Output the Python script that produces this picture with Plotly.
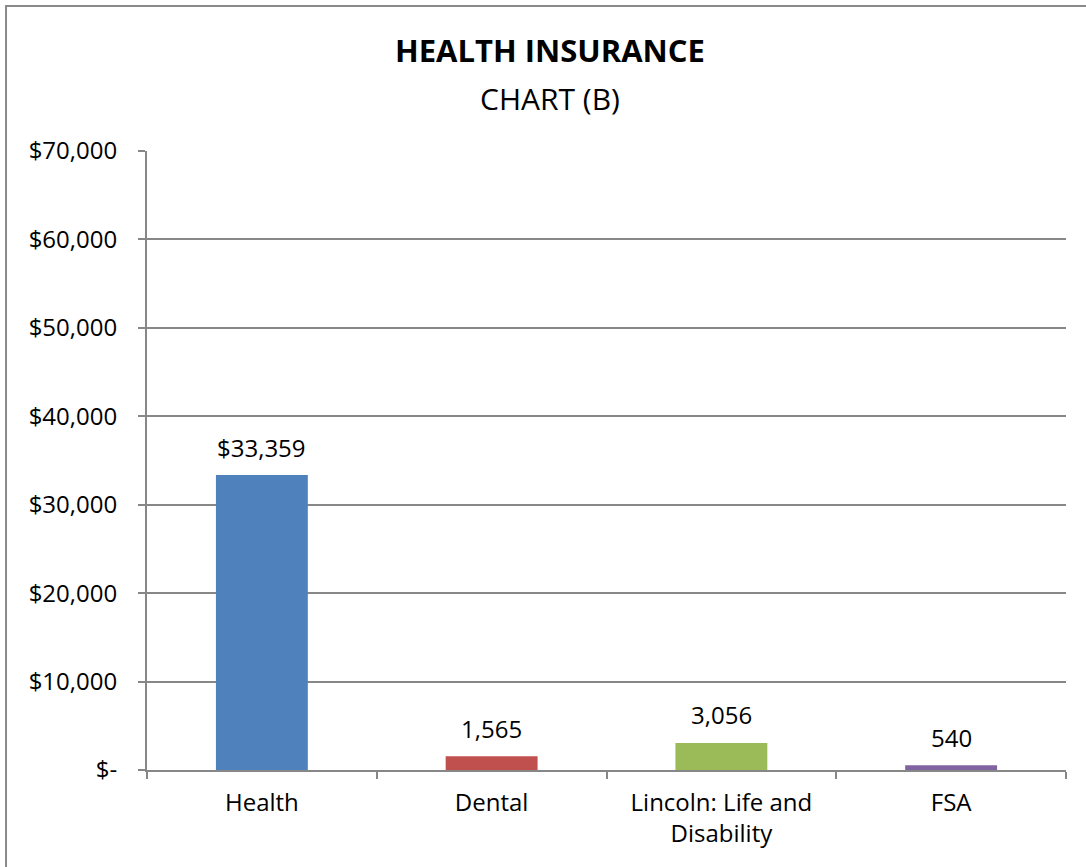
import plotly.graph_objects as go

categories = ["Health", "Dental", "Lincoln: Life and<br>Disability", "FSA"]
values = [33359, 1565, 3056, 540]
value_labels = ["$33,359", "1,565", "3,056", "540"]
bar_colors = ["#4F81BD", "#C0504D", "#9BBB59", "#8064A2"]
y_tickvals = [0, 10000, 20000, 30000, 40000, 50000, 60000, 70000]
y_ticktext = ["$-", "$10,000", "$20,000", "$30,000", "$40,000", "$50,000", "$60,000", "$70,000"]

FONT = "Open Sans"
GRID = "#878787"
FS = 24

fig = go.Figure(
    go.Bar(
        x=categories,
        y=values,
        marker=dict(color=bar_colors, line=dict(width=0)),
        width=0.4,
        hoverinfo="x+y",
    )
)

for c, v, t in zip(categories, values, value_labels):
    fig.add_annotation(
        x=c, y=v, text=t, xref="x", yref="y", showarrow=False,
        xanchor="center", yanchor="middle", yshift=28,
        font=dict(family=FONT, size=FS, color="#000000"),
    )

fig.update_layout(
    width=1086,
    height=867,
    margin=dict(l=147, r=20, t=151, b=97),
    paper_bgcolor="white",
    plot_bgcolor="white",
    showlegend=False,
    font=dict(family=FONT, size=FS, color="#000000"),
)

fig.update_yaxes(
    range=[0, 70000],
    tickvals=y_tickvals,
    ticktext=y_ticktext,
    showgrid=True,
    gridcolor=GRID,
    gridwidth=2,
    zeroline=False,
    showline=True,
    linecolor=GRID,
    linewidth=2,
    ticks="outside",
    ticklen=7,
    tickcolor=GRID,
    tickwidth=2,
    ticklabelstandoff=16,
    tickfont=dict(family=FONT, size=FS, color="#000000"),
)

fig.update_xaxes(
    showgrid=False,
    showline=True,
    linecolor=GRID,
    linewidth=2,
    ticks="outside",
    tickson="boundaries",
    ticklen=7,
    tickcolor=GRID,
    tickwidth=2,
    ticklabelstandoff=10,
    tickfont=dict(family=FONT, size=FS, color="#000000"),
)

fig.add_annotation(
    text="<b>HEALTH INSURANCE</b>", x=0.4385, y=1.163, xref="paper", yref="paper",
    xanchor="center", yanchor="middle", showarrow=False,
    font=dict(family=FONT, size=31, color="#000000"),
)
fig.add_annotation(
    text="CHART (B)", x=0.4385, y=1.0856, xref="paper", yref="paper",
    xanchor="center", yanchor="middle", showarrow=False,
    font=dict(family=FONT, size=30, color="#000000"),
)

fig.add_shape(
    type="rect", xref="paper", yref="paper",
    x0=-0.1534, x1=1.0261, y0=-0.1616, y1=1.2342,
    line=dict(color="#8a8a8a", width=2), fillcolor="rgba(0,0,0,0)", layer="below",
)

fig.write_html("out.html")
